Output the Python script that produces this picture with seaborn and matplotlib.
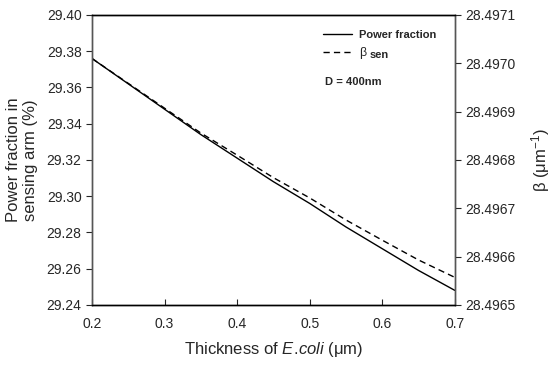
import numpy as np
import pandas as pd
import matplotlib
matplotlib.use("Agg")
import matplotlib.pyplot as plt
import seaborn as sns

# --- data
thickness = [0.20, 0.25, 0.30, 0.35, 0.40, 0.45, 0.50, 0.55, 0.60, 0.65, 0.70]
power_fraction = [29.376, 29.362, 29.348, 29.334, 29.321, 29.308, 29.296,
                  29.283, 29.271, 29.259, 29.248]
beta_sen = [28.4970100, 28.4969585, 28.4969071, 28.4968557, 28.4968099,
            28.4967633, 28.4967214, 28.4966757, 28.4966339, 28.4965929,
            28.4965569]
x_ticks = [0.2, 0.3, 0.4, 0.5, 0.6, 0.7]
left_ticks = [29.24, 29.26, 29.28, 29.30, 29.32, 29.34, 29.36, 29.38, 29.40]
right_ticks = [28.4965, 28.4966, 28.4967, 28.4968, 28.4969, 28.4970, 28.4971]

df = pd.DataFrame({"t": thickness, "pf": power_fraction, "beta": beta_sen})

sns.set_style("ticks")
plt.rcParams["font.family"] = ["Liberation Sans", "DejaVu Sans"]
plt.rcParams["mathtext.fontset"] = "custom"
plt.rcParams["mathtext.rm"] = "Liberation Sans"
plt.rcParams["mathtext.it"] = "Liberation Sans:italic"
plt.rcParams["mathtext.bf"] = "Liberation Sans:bold"

fig, ax = plt.subplots(figsize=(5.54, 3.70), dpi=100)
fig.subplots_adjust(left=0.166, right=0.821, top=0.9595, bottom=0.176)

dash = (0, (4.5, 3))
sns.lineplot(data=df, x="t", y="pf", ax=ax, color="black", lw=1.0, legend=False)
ax2 = ax.twinx()
sns.lineplot(data=df, x="t", y="beta", ax=ax2, color="black", lw=1.0,
             linestyle=dash, legend=False)

ax.set_xlim(0.2, 0.7)
ax.set_ylim(29.24, 29.40)
ax2.set_ylim(28.4965, 28.4971)
ax.set_xticks(x_ticks)
ax.set_xticklabels([f"{v:.1f}" for v in x_ticks])
ax.set_yticks(left_ticks)
ax.set_yticklabels([f"{v:.2f}" for v in left_ticks])
ax2.set_yticks(right_ticks)
ax2.set_yticklabels([f"{v:.4f}" for v in right_ticks])

ax.tick_params(axis="x", direction="in", length=4, width=0.8, labelsize=10, pad=9)
ax.tick_params(axis="y", direction="out", length=4, width=0.8, labelsize=10)
ax2.tick_params(axis="y", direction="out", length=4, width=0.8, labelsize=10)

for a in (ax, ax2):
    for s in a.spines.values():
        s.set_linewidth(1.0)
        s.set_color("#555555")
    a.spines["bottom"].set_color("black")
    a.spines["top"].set_color("black")

ax.set_xlabel("Thickness of $\\it{E.\\!coli}$ ($\\mathrm{\\mu}$m)", fontsize=12, labelpad=6)
ax.set_ylabel("Power fraction in\nsensing arm (%)", fontsize=12, labelpad=6)
ax2.set_ylabel("β (μm$^{-1}$)", fontsize=12, labelpad=10)

handles = [plt.Line2D([], [], color="black", lw=1.0),
           plt.Line2D([], [], color="black", lw=1.0, linestyle=dash)]
labels = ["Power fraction", "β"]
leg = ax.legend(handles, labels, loc="upper left", bbox_to_anchor=(0.636, 0.948),
                frameon=False, handlelength=2.6, handletextpad=0.7,
                labelspacing=0.6, borderpad=0, borderaxespad=0,
                prop={"weight": "bold", "size": 8})
beta_txt = leg.get_texts()[1]
beta_txt.set_fontweight("normal")
beta_txt.set_fontsize(9)

fig.canvas.draw()
bb = beta_txt.get_window_extent().transformed(ax.transAxes.inverted())
ax.text(bb.x1 + 0.008, bb.y0 - 0.004, "sen", transform=ax.transAxes, fontsize=8,
        fontweight="bold", va="bottom", ha="left")
ax.text(0.642, 0.769, "D = 400nm", transform=ax.transAxes, fontsize=8,
        fontweight="bold", va="center", ha="left")

fig.savefig("out.png", dpi=100)
